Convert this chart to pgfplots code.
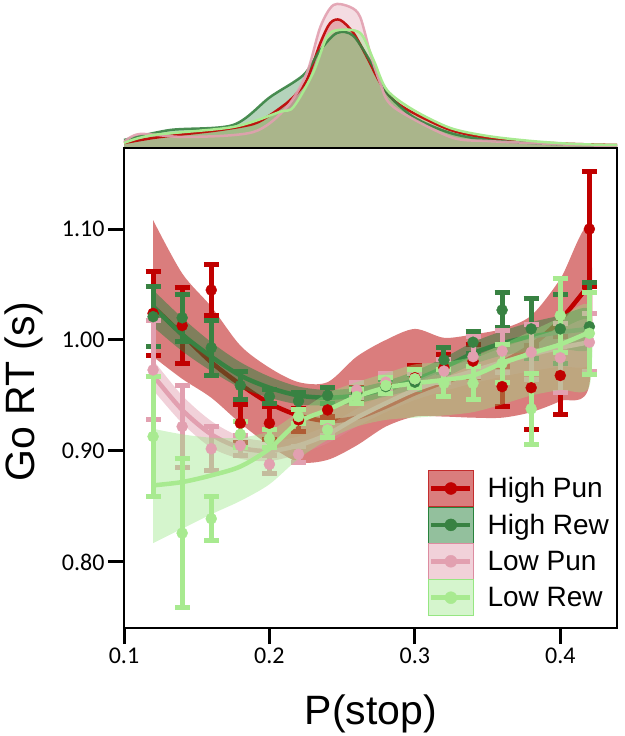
\documentclass[border=0pt]{standalone}
\usepackage{pgfplots}
\pgfplotsset{compat=1.18}
\usepackage{pgfplotstable}
\usepackage{fontspec}
\setmainfont{Liberation Sans}
\newfontfamily\tickfont{Carlito}

\definecolor{hpc}{RGB}{192,0,0}
\definecolor{hrc}{RGB}{56,130,66}
\definecolor{lpc}{RGB}{226,160,176}
\definecolor{lrc}{RGB}{168,234,144}
\definecolor{hpb}{RGB}{195,45,45}
\definecolor{hrb}{RGB}{40,130,60}
\definecolor{lpb}{RGB}{220,140,160}
\definecolor{lrb}{RGB}{150,230,130}

% points: x, mean, error
\pgfplotstableread{
x y e
0.12 1.024 0.038
0.14 1.013 0.034
0.16 1.045 0.023
0.18 0.925 0.017
0.20 0.925 0.015
0.22 0.928 0.010
0.24 0.937 0.006
0.26 0.953 0.006
0.28 0.960 0.006
0.30 0.966 0.011
0.32 0.975 0.012
0.34 0.981 0.015
0.36 0.958 0.018
0.38 0.957 0.038
0.40 0.968 0.035
0.42 1.100 0.052
}\hppts
\pgfplotstableread{
x y e
0.12 1.021 0.027
0.14 1.020 0.021
0.16 0.993 0.025
0.18 0.959 0.013
0.20 0.949 0.006
0.22 0.945 0.008
0.24 0.950 0.007
0.26 0.952 0.004
0.28 0.958 0.006
0.30 0.962 0.007
0.32 0.982 0.011
0.34 0.998 0.010
0.36 1.027 0.016
0.38 1.010 0.027
0.40 1.010 0.031
0.42 1.012 0.040
}\hrpts
\pgfplotstableread{
x y e
0.12 0.973 0.045
0.14 0.922 0.037
0.16 0.902 0.020
0.18 0.905 0.009
0.20 0.888 0.008
0.22 0.897 0.007
0.24 0.920 0.006
0.26 0.955 0.007
0.28 0.962 0.008
0.30 0.965 0.005
0.32 0.972 0.010
0.34 0.985 0.018
0.36 0.990 0.019
0.38 0.989 0.025
0.40 0.984 0.031
0.42 0.998 0.026
}\lppts
\pgfplotstableread{
x y e
0.12 0.913 0.054
0.14 0.826 0.067
0.16 0.839 0.020
0.18 0.915 0.012
0.20 0.911 0.008
0.22 0.931 0.006
0.24 0.919 0.007
0.26 0.949 0.006
0.28 0.959 0.007
0.30 0.965 0.008
0.32 0.961 0.012
0.34 0.961 0.015
0.36 0.979 0.017
0.38 0.938 0.032
0.40 1.022 0.033
0.42 1.006 0.037
}\lrpts

% fitted lines
\pgfplotstableread{
x m
0.12 1.030
0.14 1.005
0.16 0.980
0.18 0.960
0.20 0.943
0.22 0.932
0.24 0.927
0.26 0.930
0.28 0.940
0.30 0.952
0.32 0.962
0.34 0.970
0.36 0.980
0.38 0.995
0.40 1.018
0.42 1.050
}\hpfit
\pgfplotstableread{
x m
0.12 1.030
0.14 1.005
0.16 0.985
0.18 0.968
0.20 0.957
0.22 0.950
0.24 0.948
0.26 0.950
0.28 0.956
0.30 0.964
0.32 0.975
0.34 0.988
0.36 0.997
0.38 1.003
0.40 1.007
0.42 1.010
}\hrfit
\pgfplotstableread{
x m
0.12 0.968
0.14 0.937
0.16 0.915
0.18 0.903
0.20 0.900
0.22 0.905
0.24 0.915
0.26 0.930
0.28 0.943
0.30 0.955
0.32 0.964
0.34 0.972
0.36 0.980
0.38 0.987
0.40 0.993
0.42 0.998
}\lpfit
\pgfplotstableread{
x m
0.12 0.869
0.14 0.872
0.16 0.878
0.18 0.886
0.20 0.902
0.22 0.926
0.24 0.937
0.26 0.949
0.28 0.957
0.30 0.961
0.32 0.964
0.34 0.968
0.36 0.979
0.38 0.988
0.40 0.996
0.42 1.007
}\lrfit

% confidence bands: upper edge left to right, then lower edge right to left
\pgfplotstableread{
x y
0.12 1.108
0.14 1.060
0.16 1.030
0.18 0.995
0.20 0.975
0.22 0.962
0.24 0.962
0.26 0.985
0.28 1.000
0.30 1.010
0.32 1.002
0.34 1.005
0.36 1.010
0.38 1.022
0.40 1.055
0.42 1.100
0.42 0.960
0.40 0.945
0.38 0.935
0.36 0.930
0.34 0.930
0.32 0.931
0.30 0.931
0.28 0.922
0.26 0.905
0.24 0.892
0.22 0.890
0.20 0.905
0.18 0.925
0.16 0.948
0.14 0.965
0.12 0.985
}\hpband
\pgfplotstableread{
x y
0.12 1.045
0.14 1.020
0.16 0.998
0.18 0.980
0.20 0.967
0.22 0.958
0.24 0.955
0.26 0.957
0.28 0.963
0.30 0.972
0.32 0.984
0.34 0.998
0.36 1.008
0.38 1.016
0.40 1.022
0.42 1.028
0.42 0.992
0.40 0.992
0.38 0.990
0.36 0.986
0.34 0.978
0.32 0.966
0.30 0.956
0.28 0.949
0.26 0.943
0.24 0.941
0.22 0.942
0.20 0.948
0.18 0.957
0.16 0.972
0.14 0.990
0.12 1.012
}\hrband
\pgfplotstableread{
x y
0.12 0.982
0.14 0.950
0.16 0.927
0.18 0.913
0.20 0.909
0.22 0.913
0.24 0.923
0.26 0.938
0.28 0.951
0.30 0.963
0.32 0.974
0.34 0.983
0.36 0.993
0.38 1.002
0.40 1.010
0.42 1.018
0.42 0.978
0.40 0.976
0.38 0.972
0.36 0.967
0.34 0.961
0.32 0.954
0.30 0.946
0.28 0.935
0.26 0.922
0.24 0.907
0.22 0.897
0.20 0.891
0.18 0.893
0.16 0.903
0.14 0.925
0.12 0.955
}\lpband
\pgfplotstableread{
x y
0.12 0.920
0.14 0.915
0.16 0.912
0.18 0.912
0.20 0.918
0.22 0.935
0.24 0.952
0.26 0.962
0.28 0.970
0.30 0.978
0.32 0.980
0.34 0.985
0.36 0.996
0.38 1.008
0.40 1.020
0.42 1.030
0.42 0.958
0.40 0.955
0.38 0.950
0.36 0.942
0.34 0.935
0.32 0.932
0.30 0.930
0.28 0.928
0.26 0.922
0.24 0.910
0.22 0.893
0.20 0.870
0.18 0.855
0.16 0.843
0.14 0.830
0.12 0.817
}\lrband

% densities (arbitrary height units)
\pgfplotstableread{
x d
0.100 5
0.120 10
0.143 14
0.166 18
0.189 24
0.2005 33
0.212 45
0.2165 51
0.2257 68
0.235 105
0.2418 125
0.2487 128
0.2578 115
0.267 91
0.2762 65
0.2853 48
0.299 35
0.3244 18
0.35 10
0.38 6
0.41 4
0.439 3
}\hpden
\pgfplotstableread{
x d
0.100 8
0.1317 18
0.175 23
0.2005 51
0.2234 73
0.235 98
0.2464 115
0.2578 112
0.2716 81
0.2808 55
0.299 31
0.3244 15
0.35 8
0.38 5
0.41 3
0.439 2
}\hrden
\pgfplotstableread{
x d
0.100 6
0.111 14
0.143 11
0.189 16
0.212 41
0.2257 75
0.235 121
0.244 143
0.2555 141
0.2624 131
0.2693 95
0.2762 65
0.2853 41
0.3244 11
0.35 7
0.38 5
0.41 3
0.439 2
}\lpden
\pgfplotstableread{
x d
0.100 5
0.120 13
0.175 21
0.207 36
0.2165 41
0.230 75
0.2395 111
0.2475 118
0.2624 115
0.2716 88
0.2808 58
0.299 38
0.3244 20
0.35 12
0.38 7
0.41 4
0.439 3
}\lrden

\pgfplotsset{
  ebar/.style={only marks, mark=*, mark size=5.5pt,
    error bars/y dir=both, error bars/y explicit,
    error bars/error mark=-,
    error bars/error bar style={line width=5pt},
    error bars/error mark options={rotate=90, line width=5pt, mark size=7.5pt}},
}

\begin{document}
\begin{tikzpicture}
\useasboundingbox (0pt,0pt) rectangle (624pt,736pt);

% density panel
\begin{axis}[at={(124pt,588pt)}, anchor=south west, scale only axis,
  width=493pt, height=148pt, xmin=0.1, xmax=0.439, ymin=0, ymax=148,
  hide axis, clip=false]
\addplot[draw=none, fill=hpb, fill opacity=0.35, smooth] table[x=x,y=d]{\hpden} \closedcycle;
\addplot[draw=none, fill=hrb, fill opacity=0.35, smooth] table[x=x,y=d]{\hrden} \closedcycle;
\addplot[draw=none, fill=lpb, fill opacity=0.3, smooth] table[x=x,y=d]{\lpden} \closedcycle;
\addplot[draw=none, fill=lrb, fill opacity=0.35, smooth] table[x=x,y=d]{\lrden} \closedcycle;
\addplot[hpc, line width=2.5pt, smooth, opacity=0.9] table[x=x,y=d]{\hpden};
\addplot[hrc, line width=2.5pt, smooth, opacity=0.9] table[x=x,y=d]{\hrden};
\addplot[lpc, line width=2.5pt, smooth, opacity=0.9] table[x=x,y=d]{\lpden};
\addplot[lrc, line width=2.5pt, smooth] table[x=x,y=d]{\lrden};
\end{axis}

% main panel
\begin{axis}[at={(124pt,108pt)}, anchor=south west, scale only axis,
  width=493pt, height=480pt,
  xmin=0.1, xmax=0.439, ymin=0.7405, ymax=1.173,
  xtick={0.1,0.2,0.3,0.4}, xticklabels={0.1,0.2,0.3,0.4},
  ytick={0.8,0.9,1.0,1.1}, yticklabels={0.80,0.90,1.00,1.10},
  xtick pos=bottom, ytick pos=left, tick align=outside,
  major tick length=16pt,
  major tick style={line width=3pt, black},
  axis line style={line width=2.5pt},
  ticklabel style={font=\tickfont\fontsize{24}{28}\selectfont},
  xlabel={P(stop)}, ylabel={Go RT (s)},
  xlabel style={font=\fontsize{41}{48}\selectfont, at={(axis description cs:0.501,-0.179)}, anchor=center},
  ylabel style={font=\fontsize{41}{48}\selectfont, at={(axis description cs:-0.203,0.492)}, anchor=center},
  every axis plot post/.append style={forget plot},
]

% High Pun
\addplot[draw=none, fill=hpb, fill opacity=0.62, smooth] table[x=x,y=y]{\hpband};
\addplot[hpc, line width=4.5pt, smooth] table[x=x,y=m]{\hpfit};
\addplot[hpc, ebar] table[x=x,y=y,y error=e]{\hppts};

% High Rew
\addplot[draw=none, fill=hrb, fill opacity=0.5, smooth] table[x=x,y=y]{\hrband};
\addplot[hrc, line width=4.5pt, smooth] table[x=x,y=m]{\hrfit};
\addplot[hrc, ebar] table[x=x,y=y,y error=e]{\hrpts};

% Low Pun
\addplot[draw=none, fill=lpb, fill opacity=0.4, smooth] table[x=x,y=y]{\lpband};
\addplot[lpc, line width=4.5pt, smooth] table[x=x,y=m]{\lpfit};
\addplot[lpc, ebar] table[x=x,y=y,y error=e]{\lppts};

% Low Rew
\addplot[draw=none, fill=lrb, fill opacity=0.4, smooth] table[x=x,y=y]{\lrband};
\addplot[lrc, line width=4.5pt, smooth] table[x=x,y=m]{\lrfit};
\addplot[lrc, ebar] table[x=x,y=y,y error=e]{\lrpts};

\end{axis}

% legend axis (same frame, only legend)
\begin{axis}[at={(124pt,108pt)}, anchor=south west, scale only axis,
  width=493pt, height=480pt,
  xmin=0, xmax=1, ymin=0, ymax=1, hide axis,
  legend style={at={(axis description cs:0.6166,0.329)}, anchor=north west,
    draw=none, fill=none, inner sep=0pt, row sep=0pt, column sep=12pt,
    font=\fontsize{28}{34}\selectfont},
  legend cell align=left,
]
\addlegendimage{legend image code/.code={
  \fill[hpb, fill opacity=0.62] (0pt,-18pt) rectangle (45pt,18pt);
  \draw[hpc, line width=4.5pt] (3pt,0pt) -- (42pt,0pt);
  \fill[hpc] (22.5pt,0pt) circle (6pt);}}
\addlegendentry{High Pun}
\addlegendimage{legend image code/.code={
  \fill[hrb, fill opacity=0.5] (0pt,-18pt) rectangle (45pt,18pt);
  \draw[hrc, line width=4.5pt] (3pt,0pt) -- (42pt,0pt);
  \fill[hrc] (22.5pt,0pt) circle (6pt);}}
\addlegendentry{High Rew}
\addlegendimage{legend image code/.code={
  \fill[lpb, fill opacity=0.4] (0pt,-18pt) rectangle (45pt,18pt);
  \draw[lpc, line width=4.5pt] (3pt,0pt) -- (42pt,0pt);
  \fill[lpc] (22.5pt,0pt) circle (6pt);}}
\addlegendentry{Low Pun}
\addlegendimage{legend image code/.code={
  \fill[lrb, fill opacity=0.4] (0pt,-18pt) rectangle (45pt,18pt);
  \draw[lrc, line width=4.5pt] (3pt,0pt) -- (42pt,0pt);
  \fill[lrc] (22.5pt,0pt) circle (6pt);}}
\addlegendentry{Low Rew}
\end{axis}
\end{tikzpicture}
\end{document}
